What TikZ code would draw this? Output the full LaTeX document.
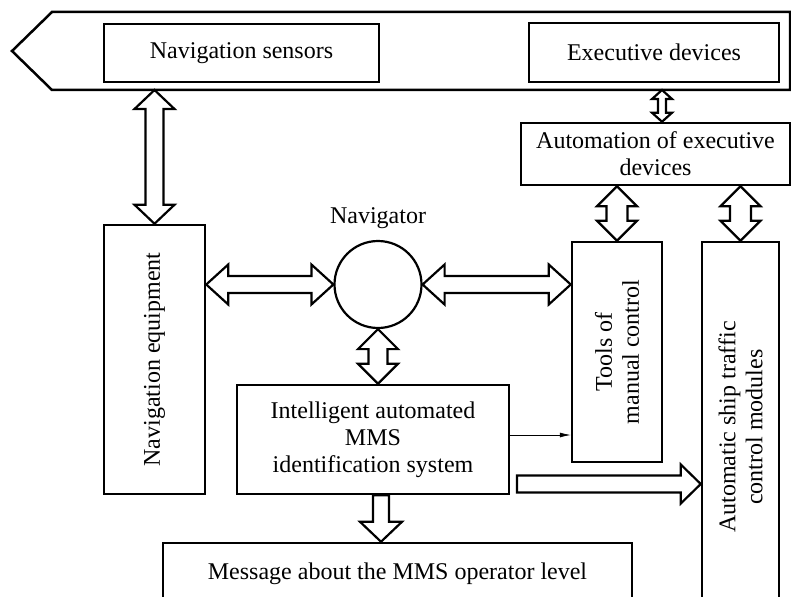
\documentclass[tikz,border=0pt]{standalone}
\usepackage{fontspec}
\setmainfont{Liberation Serif}
\usetikzlibrary{calc, positioning, arrows.meta}

% double block arrow: from, to, half shaft, half head, head length
\newcommand{\dblarrow}[5]{%
  \draw[fatarrow] (#1)
    -- ($(#1)!#5!(#2)!#4!90:(#2)$) -- ($(#1)!#5!(#2)!#3!90:(#2)$)
    -- ($(#2)!#5!(#1)!#3!-90:(#1)$) -- ($(#2)!#5!(#1)!#4!-90:(#1)$)
    -- (#2)
    -- ($(#2)!#5!(#1)!#4!90:(#1)$) -- ($(#2)!#5!(#1)!#3!90:(#1)$)
    -- ($(#1)!#5!(#2)!#3!-90:(#2)$) -- ($(#1)!#5!(#2)!#4!-90:(#2)$)
    -- cycle;}
% single block arrow
\newcommand{\onearrow}[5]{%
  \draw[fatarrow] ($(#1)!#3!90:(#2)$)
    -- ($(#2)!#5!(#1)!#3!-90:(#1)$) -- ($(#2)!#5!(#1)!#4!-90:(#1)$)
    -- (#2)
    -- ($(#2)!#5!(#1)!#4!90:(#1)$) -- ($(#2)!#5!(#1)!#3!90:(#1)$)
    -- ($(#1)!#3!-90:(#2)$) -- cycle;}

\begin{document}
\begin{tikzpicture}[
    x=1pt, y=-1pt,
    every node/.style={font=\fontsize{24}{27}\selectfont},
    block/.style={draw, line width=2.5pt, align=center, inner sep=2pt},
    fatarrow/.style={draw, fill=white, line width=2.2pt, line join=miter},
    thinarrow/.style={draw, line width=0.7pt, -{Latex[length=11pt, width=5pt]}}
]
    \useasboundingbox (0,0) rectangle (791,596);
    \clip (0,0) rectangle (791,596);

    % the bus
    \draw[line width=2.5pt, line join=miter] (12,51) -- (52,12) -- (790,12) -- (790,90) -- (52,90) -- cycle;
    \coordinate (busline) at (0,90);

    \node[block, minimum width=275pt, minimum height=58pt] (navsens) at (241.5,53) {Navigation sensors};
    \node[block, minimum width=250pt, minimum height=59pt] (execdev) at (654,52.5) {Executive devices};
    \node[block, minimum width=269pt, minimum height=62pt] (autoexec) at (655.5,154) {Automation of executive\\devices};

    % rotated boxes: east is the top side, north the left side
    \node[block, rotate=90, minimum width=269pt, minimum height=101pt] (naveq) at (154.5,359.5) {Navigation equipment};
    \node[draw, circle, line width=2.2pt, minimum size=87pt, inner sep=0pt] (nav) at (378,284.5) {};
    \node[above=11pt of nav, inner sep=0pt] (navlbl) {Navigator};
    \node[block, rotate=90, minimum width=220pt, minimum height=90pt] (tools) at (617,352) {Tools of\\manual control};
    \node[block, rotate=90, minimum width=370pt, minimum height=77pt] (autoship) at (740.5,427) {Automatic ship traffic\\control modules};
    \node[block, minimum width=272pt, minimum height=109pt] (intel) at (373,439.5) {Intelligent automated\\MMS\\identification system};
    \node[block, minimum width=469pt, minimum height=62pt] (msg) at (397.5,574) {Message about the MMS operator level};

    % connectors
    \coordinate (busN) at (naveq.east |- busline);
    \coordinate (busE) at (662,90);
    \coordinate (autoE) at (busE |- autoexec.north);
    \coordinate (toolsT) at (tools.east |- autoexec.south);
    \coordinate (shipT) at (autoship.east |- autoexec.south);
    \coordinate (naveqR) at (naveq.south |- nav.west);
    \coordinate (toolsL) at (tools.north |- nav.east);
    \coordinate (intelT) at (nav.south |- intel.north);
    \coordinate (outA) at ([xshift=8pt]intel.south);
    \coordinate (outB) at (outA |- msg.north);
    \coordinate (outC) at (517,484);
    \coordinate (outD) at (autoship.north |- outC);
    \coordinate (thinA) at ([yshift=4.5pt]intel.east);
    \coordinate (thinB) at (tools.north |- thinA);

    \dblarrow{busN}{naveq.east}{9pt}{20pt}{19pt}
    \dblarrow{busE}{autoE}{4pt}{10pt}{9pt}
    \dblarrow{toolsT}{tools.east}{10.5pt}{20pt}{20pt}
    \dblarrow{shipT}{autoship.east}{10.5pt}{20pt}{20pt}
    \dblarrow{naveqR}{nav.west}{8.5pt}{20pt}{22pt}
    \dblarrow{nav.east}{toolsL}{8.5pt}{20pt}{22pt}
    \dblarrow{nav.south}{intelT}{9.5pt}{20pt}{20pt}
    \onearrow{outA}{outB}{8pt}{21pt}{20pt}
    \onearrow{outC}{outD}{8.5pt}{19.5pt}{20pt}
    \draw[thinarrow] (thinA) -- (thinB);
\end{tikzpicture}
\end{document}
